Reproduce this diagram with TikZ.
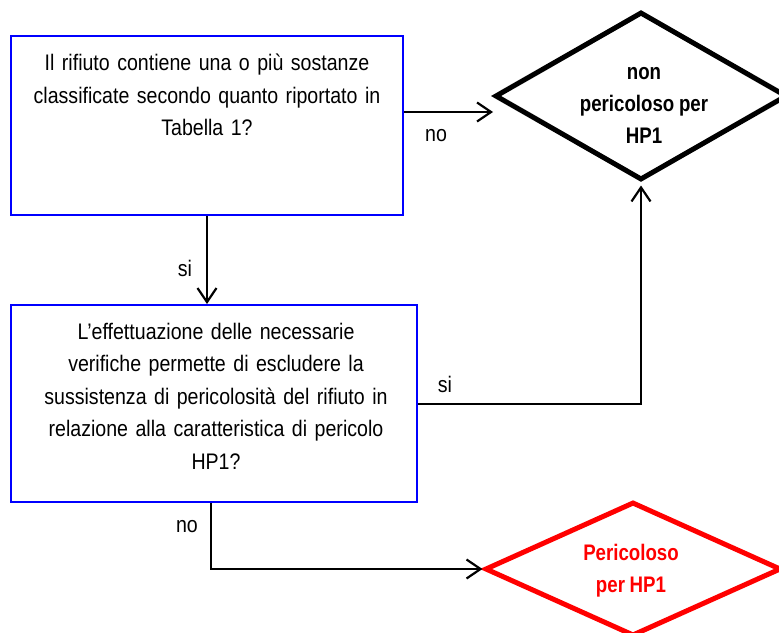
\documentclass[tikz,border=0pt]{standalone}
\usepackage{fontspec}
\setmainfont{Liberation Sans}[FakeStretch=0.87,WordSpace=0.6]
\newfontfamily\diafont{Liberation Sans}[FakeStretch=0.83,WordSpace=0.9]
\usetikzlibrary{arrows.meta,shapes.geometric}
\definecolor{boxblue}{RGB}{0,0,255}
\definecolor{hazred}{RGB}{255,0,0}
\begin{document}
\begin{tikzpicture}[x=1pt,y=-1pt,
  qbox/.style={draw=boxblue,line width=2pt,rectangle,inner sep=0pt},
  qtext/.style={align=center,text width=390pt,inner sep=0pt,font=\fontsize{22.5}{32.5}\selectfont},
  okdia/.style={draw=black,line width=5pt,diamond,inner sep=0pt},
  baddia/.style={draw=hazred,line width=5pt,diamond,inner sep=0pt},
  diatext/.style={align=center,inner sep=0pt,font=\diafont\bfseries\fontsize{22.5}{32}\selectfont},
  lbl/.style={inner sep=0pt,font=\fontsize{22.5}{25}\selectfont},
  conn/.style={draw=black,line width=2.2pt,-{Straight Barb[length=14pt,width=19pt,line width=2.2pt]}}]
\useasboundingbox (0,0) rectangle (779,632);
% boxes
\node[qbox,minimum width=392pt,minimum height=179pt] (box1) at (207,125.5) {};
\node[qtext,anchor=center] (txt1) at (207,95) {Il rifiuto contiene una o più sostanze\\classificate secondo quanto riportato in\\Tabella 1?};
\node[qbox,minimum width=406pt,minimum height=197pt] (box2) at (214,403.5) {};
\node[qtext,anchor=center] (txt2) at (216,396) {L’effettuazione delle necessarie\\verifiche permette di escludere la\\sussistenza di pericolosità del rifiuto in\\relazione alla caratteristica di pericolo\\HP1?};
% diamonds
\node[okdia,minimum width=292pt,minimum height=168pt] (d1) at (641,96) {};
\node[diatext] (d1t) at (644,105) {non\\pericoloso per\\HP1};
\node[baddia,minimum width=296pt,minimum height=134pt] (d2) at (633,569) {};
\node[diatext,text=hazred] (d2t) at (631,571) {Pericoloso\\per HP1};
% coordinates
\coordinate (t1) at (493,112);
\coordinate (c2) at (641,404);
\coordinate (c3) at (211,569);
% connectors
\draw[conn] (box1.east |- t1) -- (t1);
\draw[conn] (box1.south) -- (box1.south |- box2.north);
\draw[conn,shorten >=3pt] (box2.east |- c2) -- (c2) -- (d1.south);
\draw[conn] (box2.south -| c3) -- (c3) -- (d2.west);
% labels
\node[lbl] (l1) at (436,136) {no};
\node[lbl] (l2) at (185,268) {si};
\node[lbl] (l3) at (445,384) {si};
\node[lbl] (l4) at (187,527) {no};
\end{tikzpicture}
\end{document}
